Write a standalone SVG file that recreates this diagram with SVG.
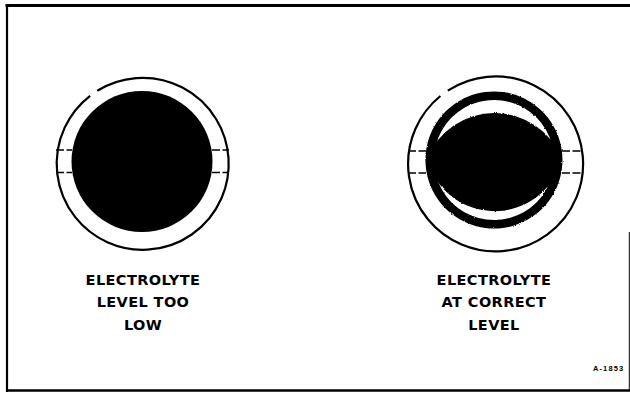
<svg xmlns="http://www.w3.org/2000/svg" width="630" height="393" viewBox="0 0 630 393">
  <defs>
    <style>
      .frame { stroke: #000; fill: none; }
      .ring { stroke: #000; stroke-width: 2.2; fill: none; }
      .vent { stroke: #000; stroke-width: 1.6; stroke-dasharray: 8 2.5; fill: none; }
      .label { font-family: "DejaVu Sans", "Liberation Sans", sans-serif; font-weight: bold; font-size: 14.5px; letter-spacing: 0.4px; text-anchor: middle; fill: #000; }
      .code { font-family: "Liberation Sans", Arial, sans-serif; font-weight: bold; font-size: 7.5px; letter-spacing: 1.1px; fill: #000; }
    </style>
    <!-- slight ragged edge for the liquid shapes -->
    <filter id="rough" x="-10%" y="-10%" width="120%" height="120%">
      <feTurbulence type="fractalNoise" baseFrequency="0.9" numOctaves="2" seed="3" result="n"/>
      <feDisplacementMap in="SourceGraphic" in2="n" scale="2.2" xChannelSelector="R" yChannelSelector="G"/>
    </filter>
  </defs>

  <rect width="630" height="393" fill="#fff"/>

  <!-- frame -->
  <g id="frame">
    <line class="frame" x1="5.5" y1="5.5" x2="630" y2="5.5" stroke-width="3"/>
    <line class="frame" x1="7" y1="4" x2="7" y2="392" stroke-width="2.2"/>
    <line class="frame" x1="6" y1="390.5" x2="630" y2="390.5" stroke-width="2.6"/>
    <line class="frame" x1="629.3" y1="232" x2="629.3" y2="390" stroke-width="1" stroke="#777"/>
  </g>

  <!-- cell with electrolyte level too low -->
  <g id="cell-low">
    <path class="ring" d="M97.3,90.8 A86,86 0 1 1 90.1,95.8"/>
    <circle cx="142" cy="161.5" r="70.5" fill="#000"/>
    <line class="vent" x1="56" y1="150" x2="72" y2="150"/>
    <line class="vent" x1="56" y1="172.5" x2="72" y2="172.5"/>
    <line class="vent" x1="212" y1="150" x2="229" y2="150"/>
    <line class="vent" x1="212" y1="172.5" x2="229" y2="172.5"/>
  </g>

  <!-- cell with electrolyte at correct level -->
  <g id="cell-correct">
    <path class="ring" d="M447.8,90.6 A87.5,87.5 0 1 1 440.4,96.0"/>
    <g filter="url(#rough)">
      <path fill="#000" fill-rule="evenodd" d="M494,91.5 A68.5,68.5 0 1 1 493.9,91.5 Z M494,100 A60,60 0 1 0 494.1,100 Z"/>
      <path fill="#000" d="M427,158.5 A72.8,72.8 0 0 1 562,158.5 A69.6,69.6 0 0 1 427,158.5 Z"/>
    </g>
    <line class="vent" x1="408" y1="151" x2="426" y2="151"/>
    <line class="vent" x1="408" y1="173" x2="426" y2="173"/>
    <line class="vent" x1="562" y1="151" x2="583" y2="151"/>
    <line class="vent" x1="562" y1="173" x2="583" y2="173"/>
  </g>

  <!-- captions -->
  <g id="caption-low">
    <text class="label" x="143" y="284.5">ELECTROLYTE</text>
    <text class="label" x="143" y="307">LEVEL TOO</text>
    <text class="label" x="143" y="329.5">LOW</text>
  </g>
  <g id="caption-correct">
    <text class="label" x="494" y="284.5">ELECTROLYTE</text>
    <text class="label" x="494" y="307">AT CORRECT</text>
    <text class="label" x="494" y="329.5">LEVEL</text>
  </g>

  <text class="code" x="593" y="371">A-1853</text>
</svg>
